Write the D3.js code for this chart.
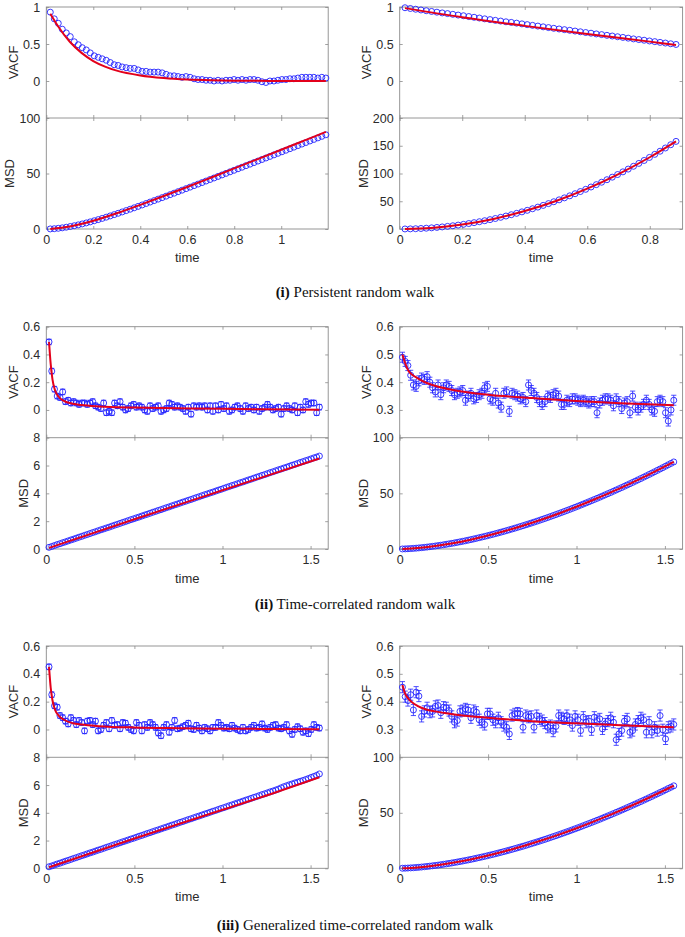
<!DOCTYPE html>
<html><head><meta charset="utf-8">
<script src="https://cdn.jsdelivr.net/npm/d3@7"></script>
<style>body{margin:0;background:#fff}svg{display:block}</style>
</head><body><svg id="c" width="685" height="937"></svg>
<script>
// ---------------- DATA ----------------
const tA = [0.017,0.034,0.051,0.068,0.085,0.102,0.119,0.136,0.153,0.17,0.187,0.204,0.221,0.238,0.255,0.272,0.289,0.306,0.323,0.34,0.357,0.374,0.391,0.408,0.425,0.442,0.459,0.476,0.493,0.51,0.527,0.544,0.561,0.578,0.595,0.612,0.629,0.646,0.663,0.68,0.697,0.714,0.731,0.748,0.765,0.782,0.799,0.816,0.833,0.85,0.867,0.884,0.901,0.918,0.935,0.952,0.969,0.986,1.003,1.02,1.037,1.054,1.071,1.088,1.105,1.122,1.139,1.156,1.173,1.19];
const tB = [0.017,0.034,0.051,0.068,0.085,0.102,0.119,0.136,0.153,0.17,0.187,0.204,0.221,0.238,0.255,0.272,0.289,0.306,0.323,0.34,0.357,0.374,0.391,0.408,0.425,0.442,0.459,0.476,0.493,0.51,0.527,0.544,0.561,0.578,0.595,0.612,0.629,0.646,0.663,0.68,0.697,0.714,0.731,0.748,0.765,0.782,0.799,0.816,0.833,0.85,0.867,0.884];
const tC = [0.0155,0.031,0.0465,0.062,0.0775,0.093,0.1085,0.124,0.1395,0.155,0.1705,0.186,0.2015,0.217,0.2325,0.248,0.2635,0.279,0.2945,0.31,0.3255,0.341,0.3565,0.372,0.3875,0.403,0.4185,0.434,0.4495,0.465,0.4805,0.496,0.5115,0.527,0.5425,0.558,0.5735,0.589,0.6045,0.62,0.6355,0.651,0.6665,0.682,0.6975,0.713,0.7285,0.744,0.7595,0.775,0.7905,0.806,0.8215,0.837,0.8525,0.868,0.8835,0.899,0.9145,0.93,0.9455,0.961,0.9765,0.992,1.0075,1.023,1.0385,1.054,1.0695,1.085,1.1005,1.116,1.1315,1.147,1.1625,1.178,1.1935,1.209,1.2245,1.24,1.2555,1.271,1.2865,1.302,1.3175,1.333,1.3485,1.364,1.3795,1.395,1.4105,1.426,1.4415,1.457,1.4725,1.488,1.5035,1.519,1.5345,1.55];

// (i) left
const vacf1L = [0.93,0.84,0.78,0.70,0.65,0.60,0.53,0.49,0.45,0.42,0.38,0.34,0.32,0.30,0.28,0.25,0.22,0.21,0.19,0.18,0.17,0.17,0.15,0.13,0.13,0.12,0.12,0.12,0.11,0.09,0.07,0.07,0.06,0.05,0.06,0.05,0.03,0.02,0.02,0.01,0.01,0.00,0.01,0.00,0.01,0.01,0.02,0.01,0.02,0.01,0.02,0.02,0.01,-0.01,-0.02,0.00,0.00,0.01,0.02,0.02,0.03,0.03,0.04,0.05,0.05,0.05,0.05,0.04,0.05,0.04];
const msd1L = [0.07,0.28,0.62,1.06,1.60,2.24,2.95,3.73,4.57,5.47,6.43,7.43,8.46,9.54,10.65,11.79,12.96,14.15,15.36,16.59,17.83,19.10,20.37,21.66,22.96,24.27,25.58,26.91,28.24,29.58,30.93,32.28,33.63,34.99,36.35,37.72,39.09,40.46,41.83,43.21,44.59,45.97,47.35,48.73,50.11,51.50,52.88,54.27,55.65,57.04,58.43,59.82,61.21,62.60,63.99,65.39,66.78,68.17,69.56,70.95,72.35,73.74,75.13,76.52,77.91,79.31,80.70,82.09,83.48,84.87];
const fitVacfT1L = [0.017,0.05,0.1,0.15,0.2,0.25,0.3,0.4,0.5,0.6,0.7,0.8,0.9,1.0,1.1,1.19];
const fitVacf1L = [0.91,0.74,0.53,0.38,0.27,0.195,0.14,0.075,0.04,0.02,0.01,0.005,0.002,0.001,0.0,0.0];
const fitMsdT1L = [0.017,0.1,0.2,0.3,0.4,0.5,0.6,0.7,0.8,0.9,1.0,1.1,1.19];
const fitMsd1L = [0.08,2.22,7.40,14.15,21.72,29.68,37.86,46.20,54.58,62.99,71.42,79.86,87.46];

// (i) right
const vacf1R = [0.990,0.980,0.970,0.960,0.950,0.940,0.930,0.920,0.911,0.901,0.891,0.882,0.871,0.861,0.851,0.840,0.830,0.820,0.810,0.800,0.792,0.782,0.772,0.762,0.752,0.742,0.732,0.722,0.712,0.703,0.694,0.685,0.675,0.665,0.655,0.646,0.636,0.627,0.617,0.608,0.598,0.589,0.579,0.569,0.560,0.551,0.541,0.532,0.522,0.513,0.503,0.494];
const msd1R = [0.06,0.23,0.53,0.93,1.46,2.10,2.86,3.74,4.73,5.84,7.06,8.41,9.87,11.44,13.14,14.94,16.87,18.91,21.07,23.35,25.74,28.25,30.88,33.63,36.49,39.46,42.56,45.77,49.10,52.54,56.10,59.78,63.57,67.49,71.51,75.66,79.92,84.30,88.80,93.40,98.13,102.98,107.94,113.02,118.21,123.53,128.96,134.50,140.17,145.95,151.84,157.86];
const fitVacfT1R = [0.017,0.2,0.4,0.6,0.8,0.884];
const fitVacf1R = [0.985,0.862,0.745,0.635,0.532,0.488];
const fitMsdT1R = [0.017,0.1,0.2,0.3,0.4,0.5,0.6,0.7,0.8,0.884];
const fitMsd1R = [0.06,2.02,8.08,18.18,32.32,50.5,72.72,98.98,129.28,157.86];

// (ii) left
const vacf2L = [0.49,0.28,0.15,0.10,0.09,0.13,0.06,0.07,0.05,0.06,0.05,0.04,0.05,0.05,0.04,0.05,0.06,0.03,0.02,0.01,0.05,-0.02,-0.01,-0.02,0.05,0.03,0.06,0.02,0.00,0.01,0.03,0.04,0.02,0.03,0.02,0.00,-0.01,0.03,0.01,0.02,0.03,-0.01,0.00,0.01,0.05,0.04,0.02,0.03,0.02,0.01,-0.01,0.02,-0.03,0.03,0.02,0.03,0.02,0.03,0.00,0.03,-0.01,0.03,0.00,0.04,0.01,0.03,-0.01,0.00,0.02,0.03,0.01,-0.01,0.03,0.01,0.02,0.00,0.02,-0.01,0.01,0.02,0.04,0.02,0.00,0.01,0.02,-0.03,0.01,0.03,0.01,0.00,0.03,-0.02,0.02,0.00,0.06,0.04,0.05,0.05,-0.02,0.02];
const msd2L = [0.12,0.18,0.25,0.32,0.38,0.45,0.51,0.58,0.65,0.71,0.78,0.85,0.91,0.98,1.04,1.11,1.18,1.24,1.31,1.38,1.44,1.51,1.57,1.64,1.71,1.77,1.84,1.91,1.97,2.04,2.11,2.17,2.24,2.30,2.37,2.44,2.50,2.57,2.64,2.70,2.77,2.83,2.90,2.97,3.03,3.10,3.17,3.23,3.30,3.37,3.43,3.50,3.56,3.63,3.70,3.76,3.83,3.90,3.96,4.03,4.09,4.16,4.23,4.29,4.36,4.43,4.49,4.56,4.62,4.69,4.76,4.82,4.89,4.96,5.02,5.09,5.16,5.22,5.29,5.35,5.42,5.49,5.55,5.62,5.69,5.75,5.82,5.88,5.95,6.02,6.08,6.15,6.22,6.28,6.35,6.41,6.48,6.55,6.61,6.68];
const fitVacfT2L = [0.0155,0.025,0.035,0.05,0.07,0.1,0.15,0.2,0.3,0.5,0.75,1.0,1.25,1.55];
const fitVacf2L = [0.49,0.33,0.22,0.14,0.095,0.065,0.045,0.035,0.025,0.017,0.012,0.008,0.005,0.002];
const fitMsdT2L = [0.0155,0.5,1.0,1.55];
const fitMsd2L = [0.08,2.14,4.22,6.5];

// (ii) right
const vacf2R = [0.49,0.475,0.46,0.425,0.39,0.385,0.405,0.415,0.41,0.42,0.40,0.38,0.365,0.39,0.355,0.38,0.39,0.385,0.37,0.355,0.36,0.365,0.37,0.335,0.35,0.36,0.34,0.345,0.355,0.36,0.38,0.385,0.34,0.335,0.36,0.325,0.31,0.36,0.365,0.295,0.36,0.355,0.35,0.34,0.345,0.33,0.39,0.37,0.36,0.345,0.33,0.32,0.33,0.35,0.345,0.355,0.36,0.35,0.32,0.32,0.335,0.33,0.34,0.34,0.335,0.33,0.335,0.33,0.325,0.33,0.33,0.29,0.325,0.335,0.34,0.34,0.335,0.315,0.34,0.33,0.305,0.325,0.33,0.29,0.35,0.31,0.30,0.31,0.32,0.335,0.32,0.30,0.295,0.33,0.335,0.33,0.29,0.26,0.30,0.335];
const msd2R = [0.04,0.12,0.24,0.39,0.56,0.75,0.97,1.21,1.47,1.75,2.05,2.37,2.70,3.05,3.42,3.80,4.20,4.62,5.05,5.50,5.95,6.43,6.92,7.42,7.94,8.47,9.02,9.57,10.15,10.73,11.32,11.93,12.56,13.19,13.84,14.50,15.16,15.84,16.54,17.25,17.96,18.69,19.43,20.18,20.94,21.72,22.50,23.30,24.11,24.92,25.75,26.59,27.44,28.30,29.17,30.05,30.94,31.84,32.74,33.66,34.60,35.54,36.49,37.45,38.42,39.40,40.39,41.39,42.40,43.42,44.45,45.49,46.53,47.59,48.66,49.73,50.81,51.91,53.01,54.12,55.24,56.37,57.51,58.66,59.83,60.98,62.16,63.34,64.53,65.73,66.95,68.16,69.39,70.62,71.87,73.11,74.38,75.66,76.92,78.21];
const fitVacfT2R = [0.0155,0.03,0.05,0.075,0.1,0.15,0.2,0.3,0.5,0.75,1.0,1.25,1.55];
const fitVacf2R = [0.50,0.47,0.44,0.425,0.415,0.398,0.387,0.372,0.355,0.343,0.332,0.324,0.317];
const fitMsdT2R = [0.0155,0.1,0.2,0.3,0.4,0.5,0.6,0.7,0.8,0.9,1.0,1.1,1.2,1.3,1.4,1.55];
const fitMsd2R = [0.04,0.85,2.67,5.21,8.38,12.11,16.36,21.10,26.29,31.94,38.0,44.47,51.34,58.59,66.21,78.31];

// (iii) left
const vacf3L = [0.45,0.25,0.17,0.16,0.10,0.085,0.06,0.04,0.085,0.065,0.035,0.065,0.05,-0.01,0.06,0.065,0.035,0.06,-0.01,0.0,0.03,0.05,0.005,0.065,0.03,0.035,0.005,0.05,0.045,0.015,0.0,-0.01,0.05,0.03,-0.01,0.035,0.015,0.05,0.035,0.015,-0.025,-0.045,0.015,0.035,-0.02,0.015,0.065,0.005,0.01,0.02,0.03,0.045,0.005,0.0,0.03,0.01,-0.01,0.015,0.005,-0.01,0.015,0.015,0.05,0.03,0.01,0.015,0.005,0.03,0.01,0.0,-0.01,0.015,-0.01,0.0,0.015,0.03,0.01,0.015,0.04,0.01,0.0,0.015,0.03,0.035,0.01,0.005,0.015,0.035,-0.01,-0.035,0.0,0.02,0.005,-0.02,-0.01,-0.03,0.0,0.035,0.015,0.01];
const msd3L = [0.11,0.17,0.24,0.31,0.37,0.44,0.51,0.57,0.64,0.71,0.77,0.84,0.91,0.97,1.04,1.11,1.17,1.24,1.31,1.37,1.44,1.51,1.57,1.64,1.71,1.77,1.84,1.91,1.97,2.04,2.11,2.17,2.24,2.31,2.37,2.44,2.51,2.57,2.64,2.71,2.77,2.84,2.91,2.97,3.04,3.11,3.17,3.24,3.31,3.37,3.44,3.51,3.57,3.64,3.71,3.77,3.84,3.91,3.97,4.04,4.11,4.17,4.24,4.31,4.37,4.44,4.51,4.57,4.64,4.71,4.77,4.84,4.91,4.97,5.04,5.11,5.17,5.24,5.31,5.37,5.44,5.51,5.57,5.64,5.71,5.80,5.88,5.95,6.02,6.08,6.15,6.21,6.27,6.33,6.40,6.47,6.55,6.62,6.70,6.80];
const fitVacfT3L = [0.0155,0.025,0.035,0.05,0.07,0.1,0.15,0.2,0.3,0.5,0.75,1.0,1.25,1.55];
const fitVacf3L = [0.45,0.30,0.21,0.14,0.10,0.07,0.045,0.035,0.024,0.014,0.009,0.006,0.004,0.002];
const fitMsdT3L = [0.0155,0.5,1.0,1.3,1.55];
const fitMsd3L = [0.08,2.15,4.22,5.46,6.56];

// (iii) right
const vacf3R = [0.452,0.418,0.404,0.425,0.37,0.434,0.42,0.347,0.365,0.378,0.362,0.365,0.383,0.386,0.36,0.38,0.378,0.368,0.347,0.326,0.332,0.365,0.368,0.374,0.37,0.342,0.368,0.362,0.335,0.326,0.318,0.356,0.356,0.335,0.326,0.342,0.326,0.314,0.308,0.284,0.35,0.356,0.359,0.356,0.308,0.35,0.344,0.347,0.308,0.35,0.338,0.332,0.323,0.308,0.314,0.294,0.311,0.35,0.342,0.338,0.35,0.335,0.314,0.347,0.335,0.296,0.344,0.326,0.33,0.299,0.344,0.332,0.338,0.302,0.32,0.33,0.342,0.326,0.263,0.284,0.296,0.33,0.338,0.29,0.296,0.318,0.33,0.342,0.335,0.29,0.326,0.29,0.308,0.296,0.35,0.299,0.266,0.308,0.311,0.318];
const msd3R = [0.04,0.11,0.23,0.37,0.53,0.71,0.92,1.15,1.40,1.66,1.95,2.25,2.57,2.90,3.25,3.61,3.99,4.39,4.80,5.23,5.65,6.11,6.57,7.05,7.54,8.05,8.57,9.09,9.64,10.19,10.75,11.33,11.93,12.53,13.15,13.78,14.40,15.05,15.71,16.39,17.06,17.76,18.46,19.17,19.89,20.63,21.38,22.14,22.90,23.67,24.46,25.26,26.07,26.89,27.71,28.55,29.39,30.25,31.10,31.98,32.87,33.76,34.67,35.58,36.50,37.43,38.37,39.32,40.28,41.25,42.23,43.22,44.20,45.21,46.23,47.24,48.27,49.31,50.36,51.41,52.48,53.55,54.63,55.73,56.84,57.93,59.05,60.17,61.30,62.44,63.60,64.75,65.92,67.09,68.28,69.45,70.66,71.88,73.07,74.30];
const fitVacfT3R = [0.0155,0.03,0.05,0.075,0.1,0.15,0.2,0.3,0.5,0.75,1.0,1.25,1.55];
const fitVacf3R = [0.46,0.43,0.41,0.395,0.385,0.372,0.365,0.355,0.342,0.33,0.322,0.315,0.308];
const fitMsdT3R = [0.0155,0.1,0.2,0.3,0.4,0.5,0.6,0.7,0.8,0.9,1.0,1.1,1.2,1.3,1.4,1.55];
const fitMsd3R = [0.04,0.81,2.54,4.95,7.96,11.50,15.54,20.05,24.98,30.34,36.10,42.25,48.77,55.66,62.90,74.39];

// VACF error bar half-widths per panel: 1L,1R,2L,2R,3L,3R
const vacfErr = [0.006,0.006,0.02,0.018,0.02,0.02];

// axis domains and ticks
const xDomain1L = [0,1.2], xTicks1L = [0,0.2,0.4,0.6,0.8,1];
const xDomain1R = [0,0.905], xTicks1R = [0,0.2,0.4,0.6,0.8];
const xDomain23 = [0,1.6], xTicks23 = [0,0.5,1,1.5];
const vDomain1 = [-0.5,1], vTicks1 = [0,0.5,1];
const mDomain1L = [0,100], mTicks1L = [0,50,100];
const mDomain1R = [0,200], mTicks1R = [0,50,100,150,200];
const vDomainL = [-0.2,0.6], vTicksL = [0,0.2,0.4,0.6];
const mDomainL = [0,8], mTicksL = [0,2,4,6,8];
const vDomainR = [0.2,0.6], vTicksR = [0.3,0.4,0.5,0.6];
const mDomainR = [0,100], mTicksR = [0,50,100];

const captions = [
  {bold:"(i)", rest:" Persistent random walk"},
  {bold:"(ii)", rest:" Time-correlated random walk"},
  {bold:"(iii)", rest:" Generalized time-correlated random walk"}
];

// ---------------- PANELS ----------------
const panels = [
  {t:tA, vacf:vacf1L, msd:msd1L, fvT:fitVacfT1L, fv:fitVacf1L, fmT:fitMsdT1L, fm:fitMsd1L, err:vacfErr[0], xD:xDomain1L, xT:xTicks1L, vD:vDomain1, vT:vTicks1, mD:mDomain1L, mT:mTicks1L},
  {t:tB, vacf:vacf1R, msd:msd1R, fvT:fitVacfT1R, fv:fitVacf1R, fmT:fitMsdT1R, fm:fitMsd1R, err:vacfErr[1], xD:xDomain1R, xT:xTicks1R, vD:vDomain1, vT:vTicks1, mD:mDomain1R, mT:mTicks1R},
  {t:tC, vacf:vacf2L, msd:msd2L, fvT:fitVacfT2L, fv:fitVacf2L, fmT:fitMsdT2L, fm:fitMsd2L, err:vacfErr[2], xD:xDomain23, xT:xTicks23, vD:vDomainL, vT:vTicksL, mD:mDomainL, mT:mTicksL},
  {t:tC, vacf:vacf2R, msd:msd2R, fvT:fitVacfT2R, fv:fitVacf2R, fmT:fitMsdT2R, fm:fitMsd2R, err:vacfErr[3], xD:xDomain23, xT:xTicks23, vD:vDomainR, vT:vTicksR, mD:mDomainR, mT:mTicksR},
  {t:tC, vacf:vacf3L, msd:msd3L, fvT:fitVacfT3L, fv:fitVacf3L, fmT:fitMsdT3L, fm:fitMsd3L, err:vacfErr[4], xD:xDomain23, xT:xTicks23, vD:vDomainL, vT:vTicksL, mD:mDomainL, mT:mTicksL},
  {t:tC, vacf:vacf3R, msd:msd3R, fvT:fitVacfT3R, fv:fitVacf3R, fmT:fitMsdT3R, fm:fitMsd3R, err:vacfErr[5], xD:xDomain23, xT:xTicks23, vD:vDomainR, vT:vTicksR, mD:mDomainR, mT:mTicksR}
];

// layout (positions only)
const rows = [
  {top:7, mid:118, bot:229, timeY:262, capY:297},
  {top:326.7, mid:437.7, bot:549, timeY:583, capY:609},
  {top:646, mid:757.3, bot:868.3, timeY:901, capY:930}
];
const cols = [{x0:46.3, x1:328.2}, {x0:399.7, x1:682.6}];
const capX = 355;

const AXC = "#8a8a8a", TXC = "#2b2b2b", BLUE = "#2222ff", RED = "#e3001b";
const FONT = "'Liberation Sans', Arial, Helvetica, sans-serif";
const svg = d3.select("#c");
svg.append("rect").attr("width",685).attr("height",937).attr("fill","#fff");
const fmt = d3.format("~g");

function styleAxis(g){
  g.select(".domain").remove();
  g.selectAll(".tick line").attr("stroke",AXC).attr("stroke-width",0.8);
  g.selectAll(".tick text").attr("fill",TXC).style("font-family",FONT).style("font-size","12.5px");
}

panels.forEach((p,i)=>{
  const R = rows[Math.floor(i/2)], C = cols[i%2];
  const g = svg.append("g");
  const x = d3.scaleLinear().domain(p.xD).range([C.x0,C.x1]);
  const yV = d3.scaleLinear().domain(p.vD).range([R.mid,R.top]);
  const yM = d3.scaleLinear().domain(p.mD).range([R.bot,R.mid]);

  // box
  g.append("rect").attr("x",C.x0).attr("y",R.top).attr("width",C.x1-C.x0).attr("height",R.bot-R.top)
    .attr("fill","none").attr("stroke",AXC).attr("stroke-width",0.9);
  g.append("line").attr("x1",C.x0).attr("x2",C.x1).attr("y1",R.mid).attr("y2",R.mid).attr("stroke",AXC).attr("stroke-width",0.9);

  // axes with inward ticks
  g.append("g").attr("transform",`translate(0,${R.bot})`)
    .call(d3.axisBottom(x).tickValues(p.xT).tickSizeInner(-3).tickSizeOuter(0).tickPadding(6).tickFormat(fmt)).call(styleAxis);
  g.append("g").attr("transform",`translate(0,${R.top})`)
    .call(d3.axisTop(x).tickValues(p.xT).tickSizeInner(-3).tickSizeOuter(0).tickFormat("")).call(styleAxis);
  g.append("g").attr("transform",`translate(0,${R.mid})`)
    .call(d3.axisBottom(x).tickValues(p.xT).tickSizeInner(-3).tickSizeOuter(0).tickFormat("")).call(styleAxis);
  g.append("g").attr("transform",`translate(0,${R.mid})`)
    .call(d3.axisTop(x).tickValues(p.xT).tickSizeInner(-3).tickSizeOuter(0).tickFormat("")).call(styleAxis);
  const gV = g.append("g").attr("transform",`translate(${C.x0},0)`)
    .call(d3.axisLeft(yV).tickValues(p.vT).tickSizeInner(-3).tickSizeOuter(0).tickPadding(6).tickFormat(fmt)).call(styleAxis);
  const gM = g.append("g").attr("transform",`translate(${C.x0},0)`)
    .call(d3.axisLeft(yM).tickValues(p.mT).tickSizeInner(-3).tickSizeOuter(0).tickPadding(6).tickFormat(fmt)).call(styleAxis);
  g.append("g").attr("transform",`translate(${C.x1},0)`)
    .call(d3.axisRight(yV).tickValues(p.vT).tickSizeInner(-3).tickSizeOuter(0).tickFormat("")).call(styleAxis);
  g.append("g").attr("transform",`translate(${C.x1},0)`)
    .call(d3.axisRight(yM).tickValues(p.mT).tickSizeInner(-3).tickSizeOuter(0).tickFormat("")).call(styleAxis);

  // axis titles
  const bV = gV.node().getBBox(), bM = gM.node().getBBox();
  g.append("text").text("VACF").attr("transform",`translate(${C.x0 + bV.x - 5},${(R.top+R.mid)/2}) rotate(-90)`)
    .attr("text-anchor","middle").attr("fill",TXC).style("font-family",FONT).style("font-size","13px");
  g.append("text").text("MSD").attr("transform",`translate(${C.x0 + bM.x - 5},${(R.mid+R.bot)/2}) rotate(-90)`)
    .attr("text-anchor","middle").attr("fill",TXC).style("font-family",FONT).style("font-size","13px");
  g.append("text").text("time").attr("x",(C.x0+C.x1)/2).attr("y",R.timeY)
    .attr("text-anchor","middle").attr("fill",TXC).style("font-family",FONT).style("font-size","13px");

  // VACF data with error bars
  const vd = p.t.map((t,j)=>({t, v:p.vacf[j]}));
  const eb = g.append("g").attr("stroke",BLUE).attr("stroke-width",0.8).attr("fill","none");
  vd.forEach(d=>{
    const y1 = yV(d.v - p.err), y2 = yV(d.v + p.err), xx = x(d.t);
    if (y1 - y2 > 2) {
      eb.append("line").attr("x1",xx).attr("x2",xx).attr("y1",y1).attr("y2",y2);
      eb.append("line").attr("x1",xx-2.6).attr("x2",xx+2.6).attr("y1",y1).attr("y2",y1);
      eb.append("line").attr("x1",xx-2.6).attr("x2",xx+2.6).attr("y1",y2).attr("y2",y2);
    }
  });
  g.append("g").selectAll("circle").data(vd).join("circle")
    .attr("cx",d=>x(d.t)).attr("cy",d=>yV(d.v)).attr("r",3)
    .attr("fill","none").attr("stroke",BLUE).attr("stroke-width",0.9);

  // MSD data
  const md = p.t.map((t,j)=>({t, v:p.msd[j]}));
  g.append("g").selectAll("circle").data(md).join("circle")
    .attr("cx",d=>x(d.t)).attr("cy",d=>yM(d.v)).attr("r",3)
    .attr("fill","none").attr("stroke",BLUE).attr("stroke-width",0.9);

  // fits
  const fvD = p.fvT.map((t,j)=>[t,p.fv[j]]), fmD = p.fmT.map((t,j)=>[t,p.fm[j]]);
  g.append("path").attr("d", d3.line().x(d=>x(d[0])).y(d=>yV(d[1])).curve(d3.curveMonotoneX)(fvD))
    .attr("fill","none").attr("stroke",RED).attr("stroke-width",2);
  g.append("path").attr("d", d3.line().x(d=>x(d[0])).y(d=>yM(d[1])).curve(d3.curveMonotoneX)(fmD))
    .attr("fill","none").attr("stroke",RED).attr("stroke-width",2);
});

// captions
captions.forEach((c,i)=>{
  const t = svg.append("text").attr("x",capX).attr("y",rows[i].capY).attr("text-anchor","middle")
    .attr("fill","#111").style("font-family","'Liberation Serif','Times New Roman',serif").style("font-size","15px");
  t.append("tspan").attr("font-weight","bold").text(c.bold);
  t.append("tspan").text(c.rest);
});
</script></body></html>
